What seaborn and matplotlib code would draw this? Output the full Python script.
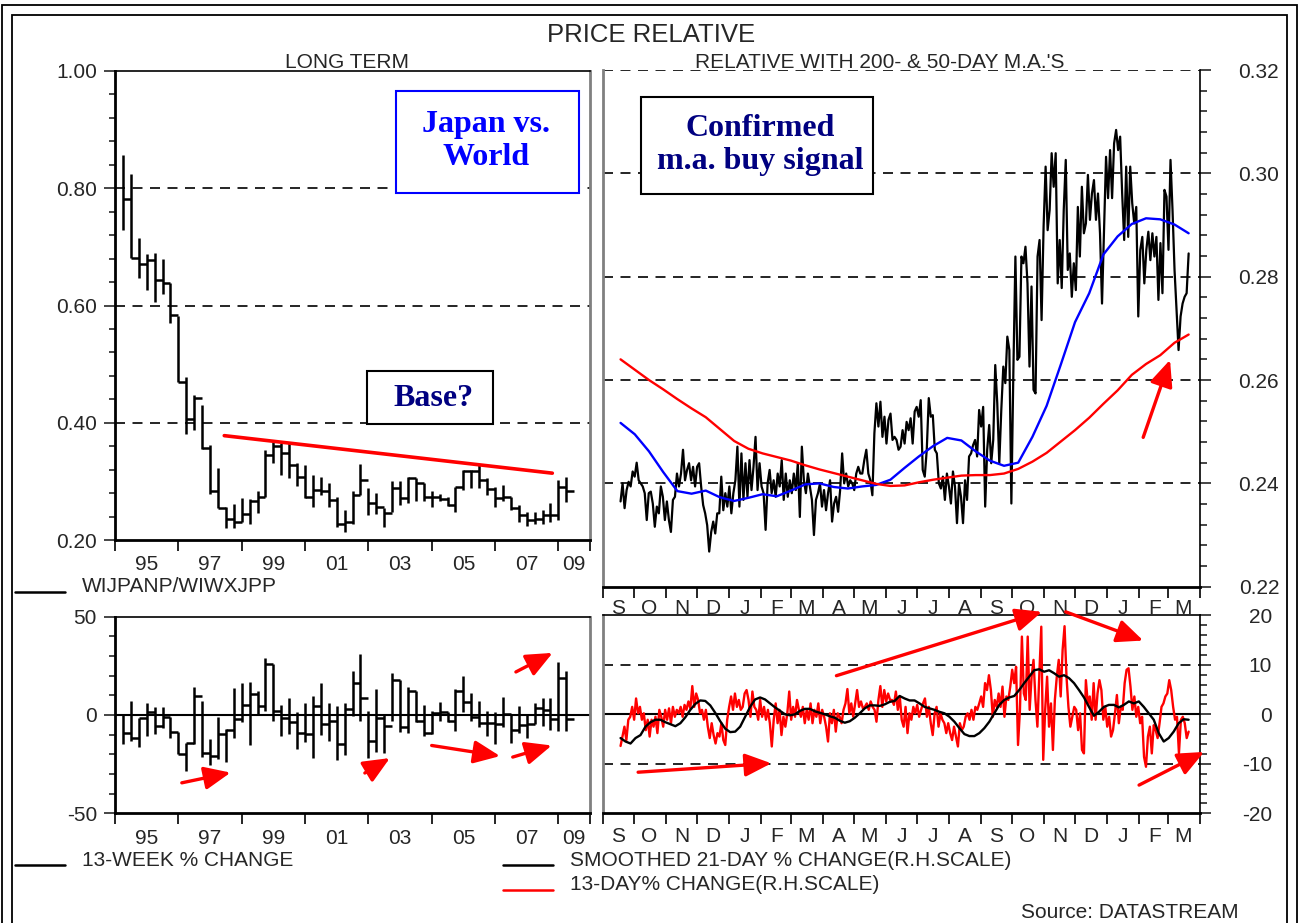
import numpy as np
import pandas as pd
import matplotlib
matplotlib.use('Agg')
import matplotlib.pyplot as plt
import matplotlib.dates as mdates
from matplotlib.ticker import FixedLocator, FixedFormatter, NullFormatter, MultipleLocator, FuncFormatter
from matplotlib.patches import Rectangle
from matplotlib.lines import Line2D
import seaborn as sns

# ---------------- data ----------------
# long term relative, quarterly high / low / close (1995Q1 .. 2009Q1)
lt_high = [0.856, 0.825, 0.715, 0.687, 0.689, 0.679, 0.638, 0.582, 0.478, 0.447,
           0.430, 0.362, 0.323, 0.257, 0.261, 0.272, 0.270, 0.283, 0.354, 0.368,
           0.365, 0.365, 0.331, 0.328, 0.311, 0.308, 0.297, 0.274, 0.251, 0.283,
           0.330, 0.288, 0.280, 0.254, 0.300, 0.300, 0.307, 0.305, 0.297, 0.283,
           0.279, 0.274, 0.291, 0.320, 0.320, 0.328, 0.305, 0.291, 0.294, 0.273,
           0.260, 0.248, 0.248, 0.252, 0.263, 0.303, 0.308]
lt_low = [0.729, 0.681, 0.647, 0.627, 0.606, 0.620, 0.570, 0.470, 0.381, 0.387,
          0.356, 0.279, 0.254, 0.220, 0.220, 0.230, 0.228, 0.246, 0.274, 0.331,
          0.311, 0.305, 0.292, 0.271, 0.257, 0.277, 0.257, 0.223, 0.213, 0.228,
          0.277, 0.243, 0.244, 0.223, 0.248, 0.260, 0.263, 0.266, 0.267, 0.257,
          0.266, 0.258, 0.248, 0.285, 0.288, 0.288, 0.277, 0.257, 0.267, 0.251,
          0.231, 0.224, 0.228, 0.228, 0.231, 0.234, 0.264]
lt_close = [0.782, 0.681, 0.670, 0.677, 0.644, 0.638, 0.583, 0.470, 0.406, 0.442,
            0.357, 0.284, 0.254, 0.236, 0.230, 0.244, 0.266, 0.274, 0.345, 0.360,
            0.348, 0.328, 0.308, 0.273, 0.285, 0.283, 0.268, 0.228, 0.230, 0.277,
            0.303, 0.263, 0.257, 0.246, 0.289, 0.271, 0.305, 0.298, 0.273, 0.273,
            0.270, 0.260, 0.291, 0.317, 0.318, 0.303, 0.287, 0.271, 0.273, 0.254,
            0.243, 0.234, 0.235, 0.243, 0.243, 0.291, 0.284]

# 13-week % change, quarterly high / low / close
wk_high = [0, 7.2, -1.5, 5.9, 3.9, 4.2, -1.2, -8.8, -14.1, 14,
           7.2, -12.1, -1.2, -7.1, 13.5, 16.5, 17, 12.3, 28.8, 26.1,
           5.2, 8.9, 1.3, 5.9, 9.8, 16.5, 5.9, 4.7, 5.9, 22.4,
           31.1, 2.2, 13.1, 0.5, 21.5, 17.8, 14, 12.3, 5.2, 2.2,
           6.4, 1.3, 13.1, 19.9, 11.4, 7.2, 2.2, 1.3, 9.3, 0.5,
           4.7, 0.5, 5.9, 8.6, 8.9, 27.1, 22.4]
wk_low = [-14.6, -13, -16.3, -10.9, -9.6, -6.6, -11.6, -20, -28.6, -14.6,
          -21.2, -25.6, -22.2, -23.9, -11.6, -3.7, -15.5, 0.5, 2.2, -2.9,
          -10.9, -9.9, -17.2, -13.8, -21.9, -10.4, -13.3, -23, -20.5, -0.3,
          -2.9, -21.9, -18.9, -19.4, -2.9, -8.8, -9.3, -3.7, -10.9, -9.9,
          -2.9, -3.7, -8.2, 1.3, -2.9, -6.2, -10.9, -15, -6.2, -14.3,
          -9.3, -11.6, -4.5, -5.4, -7.6, -7.9, -8.2]
wk_close = [-9.1, -11.6, -1.5, 1.3, -5.4, -1.2, -8.8, -20, -14.1, 9.8,
            -19.4, -20.9, -9.9, -7.4, -2, 5.2, 10.9, 4.7, 25.8, 2.2,
            -1.5, -3.7, -9.1, -9.6, 4.7, -4.5, -3.2, -14.6, 3.0, 16.5,
            8.9, -13.3, -1.5, -5.4, 17.8, -6.2, 12.3, -2.9, -9.3, 0.8,
            1.3, -2.9, 12.0, 6.4, -1.2, -4.2, -4.2, -4.5, 0.5, -7.6,
            -4.9, -4.5, 3.5, 2.5, -2.0, 18.7, -2.0]

year_labels = ['95', '97', '99', '01', '03', '05', '07', '09']

# daily relative (sampled roughly every 2 days), Sep 2007 .. Mar 2009
price = [0.2365, 0.2400, 0.2352, 0.2387, 0.2403, 0.2394, 0.2423, 0.2413, 0.2440, 0.2406,
         0.2400, 0.2394, 0.2381, 0.2329, 0.2381, 0.2384, 0.2361, 0.2316, 0.2355, 0.2342,
         0.2394, 0.2374, 0.2329, 0.2365, 0.2329, 0.2306, 0.2368, 0.2374, 0.2419, 0.2394,
         0.2419, 0.2465, 0.2406, 0.2426, 0.2439, 0.2406, 0.2432, 0.2394, 0.2432, 0.2439,
         0.2394, 0.2358, 0.2342, 0.2319, 0.2268, 0.2306, 0.2326, 0.2303, 0.2342, 0.2342,
         0.2413, 0.2348, 0.2381, 0.2355, 0.2394, 0.2342, 0.2381, 0.2406, 0.2471, 0.2355,
         0.2458, 0.2368, 0.2439, 0.2374, 0.2445, 0.2387, 0.2432, 0.2490, 0.2387, 0.2439,
         0.2394, 0.2381, 0.2310, 0.2400, 0.2426, 0.2381, 0.2406, 0.2374, 0.2419, 0.2394,
         0.2445, 0.2368, 0.2419, 0.2374, 0.2406, 0.2381, 0.2419, 0.2387, 0.2439, 0.2335,
         0.2471, 0.2406, 0.2381, 0.2419, 0.2394, 0.2368, 0.2300, 0.2368, 0.2381, 0.2400,
         0.2355, 0.2387, 0.2348, 0.2381, 0.2406, 0.2326, 0.2361, 0.2374, 0.2345, 0.2387,
         0.2458, 0.2400, 0.2419, 0.2394, 0.2406, 0.2400, 0.2387, 0.2419, 0.2432, 0.2419,
         0.2419, 0.2445, 0.2465, 0.2419, 0.2406, 0.2377, 0.2497, 0.2555, 0.2510, 0.2558,
         0.2490, 0.2529, 0.2477, 0.2523, 0.2535, 0.2484, 0.2490, 0.2484, 0.2465,
         0.2471, 0.2503, 0.2477, 0.2519, 0.2503, 0.2526, 0.2477, 0.2539, 0.2548, 0.2529,
         0.2561, 0.2426, 0.2413, 0.2465, 0.2565, 0.2529, 0.2532, 0.2465, 0.2458, 0.2400,
         0.2390, 0.2413, 0.2368, 0.2419, 0.2394, 0.2361, 0.2423, 0.2394, 0.2323, 0.2400,
         0.2374, 0.2323, 0.2406, 0.2368, 0.2452, 0.2458, 0.2474, 0.2484, 0.2452, 0.2542,
         0.2510, 0.2548, 0.2355, 0.2465, 0.2513, 0.2439, 0.2484, 0.2629, 0.2555, 0.2439,
         0.2542, 0.2626, 0.2594, 0.2684, 0.2658, 0.2361, 0.2619, 0.2839, 0.2639, 0.2645,
         0.2839, 0.2826, 0.2858, 0.2787, 0.2626, 0.2781, 0.2581, 0.2574, 0.2839, 0.2871,
         0.2716, 0.2897, 0.3013, 0.2890, 0.2929, 0.3039, 0.2974, 0.3039, 0.2787, 0.2871,
         0.2778, 0.2929, 0.3026, 0.2813, 0.2845, 0.2761, 0.2826, 0.2774, 0.2935, 0.2839,
         0.2974, 0.2884, 0.2903, 0.2997, 0.2910, 0.2961, 0.2987, 0.2910, 0.2961, 0.2884,
         0.2748, 0.2887, 0.3032, 0.2952, 0.3045, 0.2952, 0.3058, 0.3084, 0.3045, 0.3071,
         0.2961, 0.2871, 0.3013, 0.2877, 0.3013, 0.2942, 0.2903, 0.2935, 0.2723, 0.2852,
         0.2877, 0.2787, 0.2852, 0.2887, 0.2832, 0.2884, 0.2839, 0.2877, 0.2755, 0.2865,
         0.2768, 0.2968, 0.2955, 0.2852, 0.3026, 0.2929, 0.2813, 0.2735, 0.2658, 0.2723,
         0.2748, 0.2761, 0.2768, 0.2845]

# 50-day and 200-day moving averages (sampled every two weeks)
ma50 = [0.2517, 0.2495, 0.2462, 0.2422, 0.2385, 0.2380, 0.2386, 0.2373, 0.2366, 0.2372,
        0.2379, 0.2375, 0.2386, 0.2398, 0.2400, 0.2393, 0.2390, 0.2394, 0.2397, 0.2407,
        0.2430, 0.2452, 0.2472, 0.2488, 0.2483, 0.2462, 0.2444, 0.2434, 0.2440, 0.2490,
        0.2550, 0.2630, 0.2712, 0.2768, 0.2843, 0.2878, 0.2902, 0.2913, 0.2911, 0.2901,
        0.2884]
ma200 = [0.2640, 0.2620, 0.2600, 0.2582, 0.2563, 0.2545, 0.2528, 0.2505, 0.2482, 0.2467,
         0.2458, 0.2451, 0.2444, 0.2435, 0.2427, 0.2420, 0.2413, 0.2406, 0.2399, 0.2395,
         0.2396, 0.2402, 0.2407, 0.2411, 0.2415, 0.2416, 0.2416, 0.2419, 0.2428, 0.2442,
         0.2459, 0.2481, 0.2503, 0.2527, 0.2554, 0.2580, 0.2610, 0.2631, 0.2648, 0.2672,
         0.2688]

# smoothed 21-day % change (about every 5 days)
chg21 = [-4.8, -5.5, -5.9, -4.8, -4.2, -2.5, -1.6, -1.1, -1.1, -1.6,
         -2.0, -2.4, -1.8, -0.6, 0.9, 2.1, 2.8, 2.7, 1.8, 0.3,
         -1.4, -2.9, -3.6, -3.5, -2.5, -0.5, 1.5, 3.0, 3.4, 3.0,
         2.2, 1.4, 0.7, 0.0, -0.2, 0.0, 0.7, 1.1, 1.1, 0.6,
         0.3, 0.0, -0.4, -0.7, -1.3, -1.7, -1.4, -0.7, 0.2, 1.2,
         1.8, 1.8, 1.7, 2.0, 2.5, 2.7,
         3.7, 3.2, 2.8, 2.8, 2.2, 1.5, 1.2, 0.9, 0.5, 0.2,
         -0.5, -1.5, -2.8, -4.0, -4.4, -4.4, -3.8, -2.8, -1.5, 0.2,
         1.9, 2.9, 3.4, 3.7, 4.9, 6.3, 7.6, 8.9, 9.1, 8.6,
         8.9, 8.3, 7.6, 7.9, 7.3, 6.3, 4.9, 3.4, 1.5, -0.3,
         0.5, 1.5, 1.9, 1.9, 1.4, 1.9, 2.6, 2.2, 2.6, 1.5,
         0.2, -1.1, -3.8, -5.5, -4.8, -3.5, -1.8, -1.0, -1.1]

# 13-day % change (roughly every 2 days)
chg13 = [-6.4, -4.5, -2.5, -5.2, -1.1, -0.5, 1.5, -1.1, 3.2, 0.2,
         1.5, -1.1, 0.2, -3.2, -1.1, -4.5, -1.1, -2.5, -0.5, -3.8,
         0.9, -0.5, -2.5, 0.9, -1.1, 1.2, -1.8, 1.5, -0.5, 0.9,
         0.2, 1.5, -0.5, 1.9, 0.9, 2.6, 1.2, 5.7, 1.5, 4.2,
         2.9, 0.2, 0.9, -1.1, 0.9, -2.5, -4.8, -1.8, -4.2, -5.9,
         -3.8, -4.5, -1.8, -5.2, -6.2, -1.1, 1.5, 3.6, 0.9, 4.2,
         1.5, 2.9, 0.9, 1.5, 4.2, 4.9, 2.9, -0.5, 4.6, 1.5,
         0.9, -1.1, 2.9, -0.5, 1.5, -1.1, 0.9, -1.8, -6.5, -1.1,
         2.2, -1.8, 0.9, -4.2, -0.5, -2.5, 0.2, 4.6, -1.1, 1.5,
         -0.5, 2.9, 0.9, -0.5, 1.5, -1.8, 0.9, -1.1, 2.2, -1.8,
         0.9, -0.5, 2.2, -1.8, 0.9, -0.5, -2.5, -5.5, 0.2, -1.8,
         0.9, -3.5, 0.2, -0.5, -1.8, 0.9, 2.2, 5.1, 0.2, 2.2,
         -0.5, 2.2, 4.9, 1.5, 2.6, 1.2, 1.5, 2.2, 0.9, 2.6,
         1.5, 0.9, -1.5, 2.9, 5.7, 1.5, 4.9, 2.6, 4.2, 2.9,
         2.9, 1.9, 4.6, 0.9, 3.6, -1.1, -2.5, 1.5, -3.8, 0.2,
         -1.1, 1.5, 0.2, 1.9, -0.5, 0.9, 2.2, 3.2, -0.5, 1.5,
         -1.8, -4.2, 0.2, 1.5, -2.5, 0.2, -1.1, -1.8, -3.8, -1.8,
         -3.8, -5.2, -2.5, -4.5, -6.5, -1.8, -3.2, -2.5, -0.5, 0.2,
         -1.1, 0.9, -1.1, 1.5, 0.9, 2.2, 3.6, 1.5, 6.3, 4.9,
         7.9, 4.9, -0.5, 2.9, 1.5, 4.2, 1.5, 5.6, -0.5, 3.6,
         2.9, 5.6, 9.0, 6.3, 9.6, -6.2, 0.9, 15.7, 4.2, 2.9,
         15.7, 0.9, 7.6, 11.0, 2.9, -2.5, 8.3, 17.7, -9.2, 0.9,
         7.6, -2.5, 2.2, -7.2, 2.9, 7.6, 11.0, 3.6, 13.0, 17.8,
         7.6, 1.5, -2.5, -0.5, 1.5, 0.9, -3.2, 0.2, -7.2, -7.9,
         6.9, 2.2, 3.6, -1.1, 6.3, -1.1, 4.2, 6.9, 4.9, -1.1,
         1.5, -2.5, -0.5, -4.5, -3.2, 0.2, 3.9, -1.8, 1.5, 0.9,
         6.3, 9.0, 9.3, 5.6, 0.9, 3.6, -0.5, 1.5, -1.8, -0.5,
         -8.6, -10.6, -4.5, -2.5, -7.9, -2.2, -3.2, -4.8, -1.8, 1.5,
         2.2, 3.6, 4.2, 6.9, 4.9, 1.5, -1.1, -0.5, -7.9, -1.1,
         -0.5, -1.8, -4.8, -3.5]

daily_start, daily_end = '2007-09-18', '2009-03-21'

# hand-drawn annotations: (x0, y0, x1, y1)
trend_line = ([1998.45, 2008.81], [0.378, 0.314])
lt_arrows = [(1997.11, -34.5, 1998.65, -29.3),
             (2002.89, -29.5, 2003.68, -21.9),
             (2005.00, -15.5, 2007.16, -20.9),
             (2007.56, -21.4, 2008.79, -15.5),
             (2007.66, 21.9, 2008.82, 31.6)]
rel_arrow = ('2009-02-05', 0.2489, '2009-03-03', 0.2639)
chg_arrows = [('2007-10-05', -11.7, '2008-02-11', -9.9),
              ('2008-04-14', 7.8, '2008-10-30', 20.7),
              ('2008-11-22', 20.7, '2009-02-05', 14.9),
              ('2009-02-01', -14.3, '2009-04-05', -7.6)]

# ---------------- figure ----------------
sns.set_style('ticks')
plt.rcParams['font.family'] = ['Liberation Sans', 'DejaVu Sans']
plt.rcParams['axes.unicode_minus'] = False
FS = 15
DASH = (0, (6, 4.5))
RED = '#ff0000'
BLUE = '#0000ff'
NAVY = '#000080'
GREY = '#808080'

W, H = 1299, 923
fig = plt.figure(figsize=(W / 100, H / 100), dpi=100)


def rect(l, t, r, b):
    return [l / W, 1 - b / H, (r - l) / W, (b - t) / H]


def fxy(x, y):
    return x / W, 1 - y / H


ax1 = fig.add_axes(rect(115, 71, 590, 540))
ax2 = fig.add_axes(rect(603, 70, 1200, 586.7))
ax3 = fig.add_axes(rect(115, 616.7, 590, 813.3))
ax4 = fig.add_axes(rect(603, 615.3, 1200, 813.3))
for ax in (ax1, ax2, ax3, ax4):
    ax.set_facecolor('none')


def spines(ax, left, right, top, bottom):
    for name, spec in zip(['left', 'right', 'top', 'bottom'], [left, right, top, bottom]):
        if spec is None:
            ax.spines[name].set_visible(False)
        else:
            ax.spines[name].set_color(spec[0])
            ax.spines[name].set_linewidth(spec[1])


def year_axis(ax):
    ticks = list(range(1995, 2010, 2)) + [2010]
    mids = [(a + b) / 2 for a, b in zip(ticks[:-1], ticks[1:])]
    ax.set_xlim(1995, 2010)
    ax.xaxis.set_major_locator(FixedLocator(ticks))
    ax.xaxis.set_major_formatter(NullFormatter())
    ax.xaxis.set_minor_locator(FixedLocator(mids))
    ax.xaxis.set_minor_formatter(FixedFormatter(year_labels))
    ax.tick_params(axis='x', which='major', length=8, width=1.2, direction='out', color='black')
    ax.tick_params(axis='x', which='minor', length=0, pad=11, labelsize=FS)


def month_axis(ax, pad):
    ax.set_xlim(mdates.date2num(pd.Timestamp('2007-09-01')), mdates.date2num(pd.Timestamp('2009-04-01')))
    ax.xaxis.set_major_locator(mdates.MonthLocator())
    ax.xaxis.set_major_formatter(NullFormatter())
    ax.xaxis.set_minor_locator(mdates.MonthLocator(bymonthday=16))
    ax.xaxis.set_minor_formatter(FuncFormatter(lambda v, p: mdates.num2date(v).strftime('%b')[0]))
    ax.tick_params(axis='x', which='major', length=8, width=1.2, direction='out', color='black')
    ax.tick_params(axis='x', which='minor', length=0, pad=pad, labelsize=FS)


def right_labels(ax, pad):
    ax.yaxis.tick_right()
    ax.tick_params(axis='y', which='major', length=8, width=1.2, direction='out', pad=pad, labelsize=FS)
    ax.tick_params(axis='y', which='minor', length=5, width=1.2, direction='out')
    for t in ax.yaxis.get_major_ticks():
        t.label2.set_horizontalalignment('right')


def arrow(ax, x0, y0, x1, y1):
    ax.annotate('', xy=(x1, y1), xytext=(x0, y0), annotation_clip=False,
                arrowprops=dict(arrowstyle='-|>,head_length=0.8,head_width=0.35', color=RED,
                                lw=2.4, shrinkA=0, shrinkB=0, mutation_scale=20))


qx = 1995.25 + 0.25 * np.arange(len(lt_close))

# ---- long term ----
ax1.vlines(qx, lt_low, lt_high, color='black', lw=1.8)
ax1.hlines(lt_close, qx, qx + 0.25, color='black', lw=1.8)
for lvl in [0.4, 0.6, 0.8]:
    ax1.axhline(lvl, color='black', lw=1.2, ls=DASH, zorder=0)
ax1.plot(trend_line[0], trend_line[1], color=RED, lw=2.6)
ax1.set_ylim(0.2, 1.0)
ax1.yaxis.set_major_locator(FixedLocator([0.2, 0.4, 0.6, 0.8, 1.0]))
ax1.yaxis.set_major_formatter(FuncFormatter(lambda v, p: f'{v:.2f}'))
ax1.yaxis.set_minor_locator(MultipleLocator(0.04))
ax1.tick_params(axis='y', which='major', length=8, width=1.2, pad=5, labelsize=FS)
ax1.tick_params(axis='y', which='minor', length=4, width=1.2)
year_axis(ax1)
spines(ax1, ('black', 2), (GREY, 2), ('black', 1.2), ('black', 2))

# ---- 13-week change ----
ax3.vlines(qx, wk_low, wk_high, color='black', lw=1.8)
ax3.hlines(wk_close, qx, qx + 0.25, color='black', lw=1.8)
ax3.axhline(0, color='black', lw=1.5, zorder=0)
ax3.set_ylim(-50, 50)
ax3.yaxis.set_major_locator(FixedLocator([-50, 0, 50]))
ax3.yaxis.set_minor_locator(MultipleLocator(10))
ax3.tick_params(axis='y', which='major', length=8, width=1.2, pad=5, labelsize=FS)
ax3.tick_params(axis='y', which='minor', length=4, width=1.2)
year_axis(ax3)
spines(ax3, ('black', 2), (GREY, 2), ('black', 1.2), ('black', 2))
for a in lt_arrows:
    arrow(ax3, *a)

# ---- daily relative with MAs ----
pdf = pd.DataFrame({'date': pd.date_range(daily_start, daily_end, periods=len(price)), 'rel': price})
mdf = pd.DataFrame({'date': pd.date_range(daily_start, daily_end, periods=len(ma50)),
                    'ma50': ma50, 'ma200': ma200})
sns.lineplot(data=pdf, x='date', y='rel', ax=ax2, color='black', lw=1.6, estimator=None)
sns.lineplot(data=mdf, x='date', y='ma50', ax=ax2, color=BLUE, lw=1.7, estimator=None)
sns.lineplot(data=mdf, x='date', y='ma200', ax=ax2, color=RED, lw=1.7, estimator=None)
for lvl in [0.24, 0.26, 0.28, 0.30, 0.32]:
    ax2.axhline(lvl, color='black', lw=1.2, ls=DASH, zorder=0)
ax2.set_ylim(0.22, 0.32)
ax2.yaxis.set_major_locator(FixedLocator([0.22, 0.24, 0.26, 0.28, 0.30, 0.32]))
ax2.yaxis.set_major_formatter(FuncFormatter(lambda v, p: f'{v:.2f}'))
ax2.yaxis.set_minor_locator(MultipleLocator(0.004))
month_axis(ax2, 9)
right_labels(ax2, 49)
spines(ax2, (GREY, 2), ('black', 1.2), None, ('black', 2))
ax2.set_xlabel('')
ax2.set_ylabel('')
d0, v0, d1, v1 = rel_arrow
arrow(ax2, mdates.date2num(pd.Timestamp(d0)), v0, mdates.date2num(pd.Timestamp(d1)), v1)

# ---- % changes ----
cdf = pd.DataFrame({'date': pd.date_range(daily_start, daily_end, periods=len(chg21)), 'chg': chg21})
rdf = pd.DataFrame({'date': pd.date_range(daily_start, daily_end, periods=len(chg13)), 'chg': chg13})
sns.lineplot(data=rdf, x='date', y='chg', ax=ax4, color=RED, lw=1.7, estimator=None)
sns.lineplot(data=cdf, x='date', y='chg', ax=ax4, color='black', lw=1.7, estimator=None)
for lvl in [-10, 10]:
    ax4.axhline(lvl, color='black', lw=1.2, ls=DASH, zorder=0)
ax4.axhline(0, color='black', lw=1.5, zorder=0)
ax4.set_ylim(-20, 20)
ax4.yaxis.set_major_locator(FixedLocator([-20, -10, 0, 10, 20]))
ax4.yaxis.set_minor_locator(MultipleLocator(2))
month_axis(ax4, 10)
right_labels(ax4, 44)
spines(ax4, (GREY, 2), ('black', 1.2), ('black', 1.2), ('black', 2))
ax4.set_xlabel('')
ax4.set_ylabel('')
for d0, v0, d1, v1 in chg_arrows:
    arrow(ax4, mdates.date2num(pd.Timestamp(d0)), v0, mdates.date2num(pd.Timestamp(d1)), v1)

# ---- texts ----
fig.text(*fxy(651, 42), 'PRICE RELATIVE', ha='center', va='baseline', fontsize=18.5)
fig.text(*fxy(347, 68), 'LONG TERM', ha='center', va='baseline', fontsize=FS)
fig.text(*fxy(880, 68), "RELATIVE WITH 200- & 50-DAY M.A.'S", ha='center', va='baseline', fontsize=FS)


def box(l, t, r, b, edge):
    fig.add_artist(Rectangle(fxy(l, b), (r - l) / W, (b - t) / H, transform=fig.transFigure,
                             facecolor='white', edgecolor=edge, lw=1.5, zorder=5))


serif = ['Liberation Serif', 'DejaVu Serif']
box(396, 91, 579, 193, BLUE)
fig.text(*fxy(486, 141), 'Japan vs.\nWorld', ha='center', va='center', ma='center', fontsize=23,
         fontweight='bold', family=serif, color=BLUE, linespacing=1.22, zorder=6)
box(641, 97, 873, 194, 'black')
fig.text(*fxy(760, 145), 'Confirmed\nm.a. buy signal', ha='center', va='center', ma='center', fontsize=23,
         fontweight='bold', family=serif, color=NAVY, linespacing=1.22, zorder=6)
box(367, 371, 493, 424, 'black')
fig.text(*fxy(433, 399), 'Base?', ha='center', va='center', fontsize=23,
         fontweight='bold', family=serif, color=NAVY, zorder=6)


def legend_entry(x0, x1, y_line, y_text, color, label):
    fig.add_artist(Line2D([x0 / W, x1 / W], [1 - y_line / H] * 2, transform=fig.transFigure,
                          color=color, lw=1.8))
    fig.text(*fxy(x1 + 17, y_text), label, ha='left', va='baseline', fontsize=FS)


legend_entry(15, 65, 592, 592, 'black', 'WIJPANP/WIWXJPP')
legend_entry(15, 65, 865, 865.5, 'black', '13-WEEK % CHANGE')
legend_entry(503, 553, 865, 865.5, 'black', 'SMOOTHED 21-DAY % CHANGE(R.H.SCALE)')
legend_entry(503, 553, 890, 890.5, RED, '13-DAY% CHANGE(R.H.SCALE)')
fig.text(*fxy(1021, 918), 'Source: DATASTREAM', ha='left', va='baseline', fontsize=FS)

# outer frames
for l, t, r in [(2, 5, 1297), (12, 15, 1287)]:
    fig.add_artist(Rectangle(fxy(l, 960), (r - l) / W, (960 - t) / H, transform=fig.transFigure,
                             facecolor='none', edgecolor='black', lw=1.3))

fig.savefig('out.png', dpi=100)
